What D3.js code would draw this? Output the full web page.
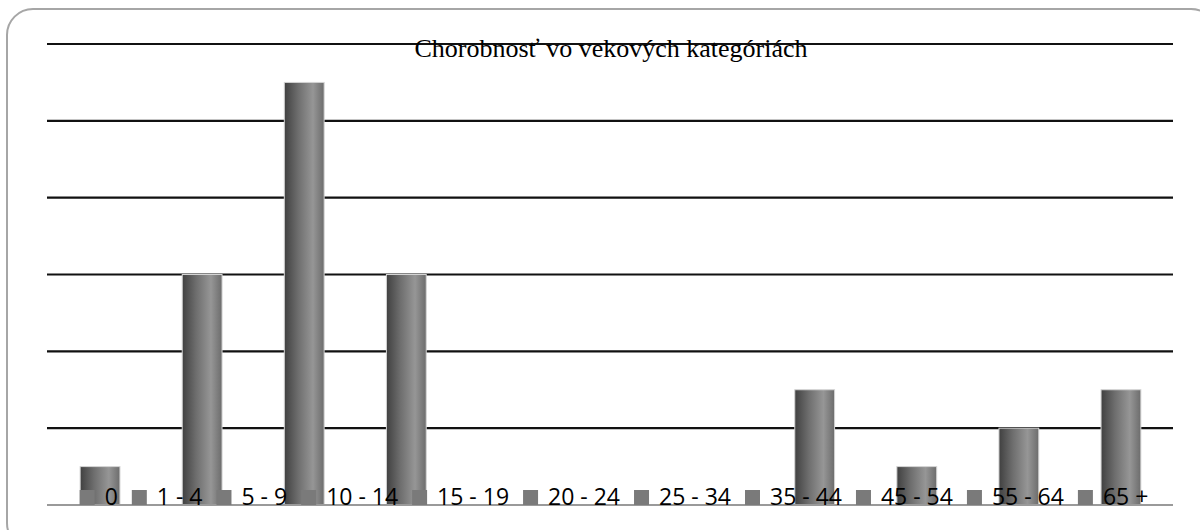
<!DOCTYPE html>
<html>
<head>
<meta charset="utf-8">
<script src="https://cdn.jsdelivr.net/npm/d3@7"></script>
<style>
body{margin:0;background:#fff}
svg{display:block}
</style>
</head>
<body>
<svg id="chart"></svg>
<script>
var screen = {width:1200,height:530}
var margins = {top:44,right:28,bottom:25,left:49}

var title = "Chorobnosť vo vekových kategóriách"
var categories = ["0","1 - 4","5 - 9","10 - 14","15 - 19","20 - 24","25 - 34","35 - 44","45 - 54","55 - 64","65 +"]
var cases = [0.5,3,5.5,3,0,0,0,1.5,0.5,1,1.5]
var gridTicks = [1,2,3,4,5,6]

var svg = d3.select("#chart")
    .attr("width",screen.width)
    .attr("height",screen.height)

// rounded frame
svg.append("rect")
    .attr("x",7).attr("y",9)
    .attr("width",1210).attr("height",540)
    .attr("rx",26)
    .attr("fill","none")
    .attr("stroke","#a6a6a6")
    .attr("stroke-width",2)

// cylinder-ish gradient
var grad = svg.append("defs").append("linearGradient")
    .attr("id","barGrad")
    .attr("x1","0%").attr("x2","100%").attr("y1","0%").attr("y2","0%")
grad.append("stop").attr("offset","0%").attr("stop-color","#404040")
grad.append("stop").attr("offset","35%").attr("stop-color","#6e6e6e")
grad.append("stop").attr("offset","72%").attr("stop-color","#969696")
grad.append("stop").attr("offset","100%").attr("stop-color","#6c6c6c")

var width = screen.width - margins.left - margins.right
var height = screen.height - margins.top - margins.bottom

var xScale = d3.scaleBand()
    .domain(categories)
    .range([margins.left,margins.left+width])
    .paddingInner(0.61)
    .paddingOuter(0.305)

var yScale = d3.scaleLinear()
    .domain([0,6])
    .range([margins.top+height,margins.top])

// gridlines
svg.append("g")
    .selectAll("line")
    .data(gridTicks)
    .enter()
    .append("line")
    .attr("x1",47)
    .attr("x2",1173)
    .attr("y1",function(d){return yScale(d)})
    .attr("y2",function(d){return yScale(d)})
    .attr("stroke","#111")
    .attr("stroke-width",2.2)

// bars
svg.append("g")
    .selectAll("rect")
    .data(cases)
    .enter()
    .append("rect")
    .attr("x",function(d,i){return xScale(categories[i])})
    .attr("y",function(d){return yScale(d)})
    .attr("width",xScale.bandwidth())
    .attr("height",function(d){return yScale(0)-yScale(d)})
    .attr("fill","url(#barGrad)")
    .attr("stroke","#d4d4d4")
    .attr("stroke-width",1)

// baseline
svg.append("line")
    .attr("x1",47).attr("x2",1173)
    .attr("y1",yScale(0)).attr("y2",yScale(0))
    .attr("stroke","#9a9a9a")
    .attr("stroke-width",2)

// title
svg.append("text")
    .attr("x",611)
    .attr("y",57)
    .attr("text-anchor","middle")
    .attr("font-family","'Liberation Serif','Times New Roman',serif")
    .attr("font-size",26)
    .attr("fill","#000")
    .text(title)

// legend along the bottom
var legend = svg.append("g")
var items = legend.selectAll("g")
    .data(categories)
    .enter()
    .append("g")
items.append("rect")
    .attr("width",15).attr("height",15)
    .attr("y",490)
    .attr("fill","#7a7a7a")
items.append("text")
    .attr("y",505)
    .attr("font-family","'Open Sans','Noto Sans',sans-serif")
    .attr("font-size",23)
    .attr("fill","#000")
    .text(function(d){return d})

var pos = 0
items.each(function()
{
    var g = d3.select(this)
    var w = g.select("text").node().getComputedTextLength()
    g.select("rect").attr("x",pos)
    g.select("text").attr("x",pos+25)
    pos = pos + 25 + w + 14
})
var total = pos - 14
legend.attr("transform","translate("+(614-total/2)+",0)")
</script>
</body>
</html>
